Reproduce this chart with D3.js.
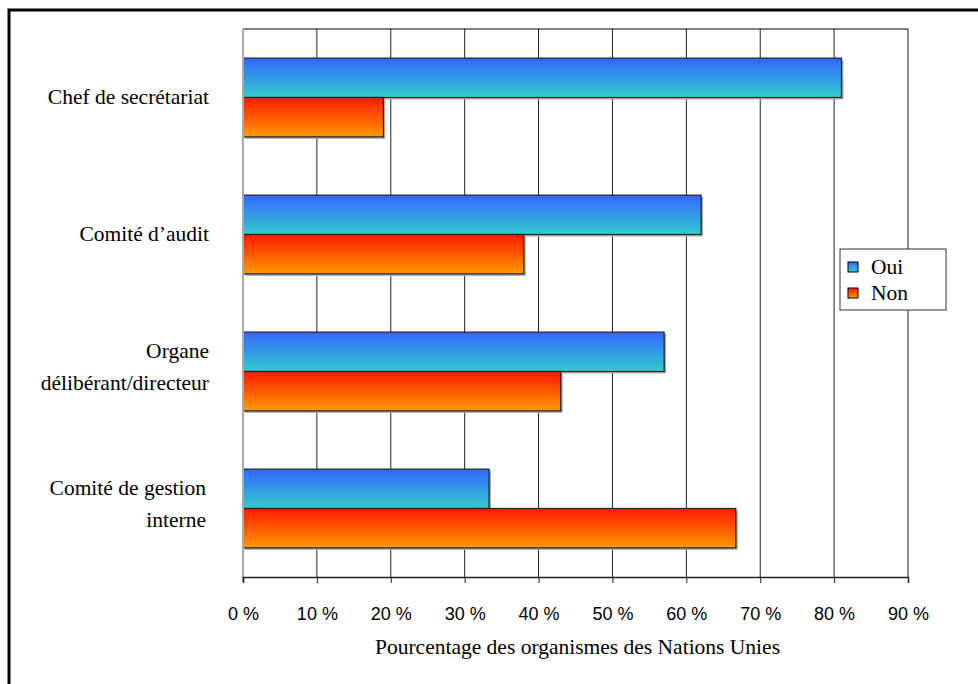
<!DOCTYPE html>
<html>
<head>
<meta charset="utf-8">
<script src="https://cdn.jsdelivr.net/npm/d3@7"></script>
<style>
  body { margin: 0; background: #fff; }
  svg { display: block; }
</style>
</head>
<body>
<svg width="978" height="684"></svg>
<script>
// data
var categories = [
  ["Chef de secrétariat"],
  ["Comité d\u2019audit"],
  ["Organe", "délibérant/directeur"],
  ["Comité de gestion", "interne"]
];
var oui = [81, 62, 57, 33.3];
var non = [19, 38, 43, 66.7];
var seriesNames = ["Oui", "Non"];
var ticks = [0, 10, 20, 30, 40, 50, 60, 70, 80, 90];

var svg = d3.select("svg");
// plot box (don't call it "top", that's window.top)
var pL = 243, pR = 908, pT = 29, pB = 577;
var serif = "'Liberation Serif', 'Times New Roman', serif";

// outer frame (cropped on the right and bottom)
svg.append("path")
  .attr("d", "M9,684 V10 H978")
  .attr("fill", "none").attr("stroke", "#000").attr("stroke-width", 3);

var defs = svg.append("defs");
var g1 = defs.append("linearGradient").attr("id", "gOui")
  .attr("x1", 0).attr("y1", 0).attr("x2", 0).attr("y2", 1);
g1.append("stop").attr("offset", "0%").attr("stop-color", "#3366ff");
g1.append("stop").attr("offset", "100%").attr("stop-color", "#33cccc");
var g2 = defs.append("linearGradient").attr("id", "gNon")
  .attr("x1", 0).attr("y1", 0).attr("x2", 0).attr("y2", 1);
g2.append("stop").attr("offset", "0%").attr("stop-color", "#ff1a00");
g2.append("stop").attr("offset", "100%").attr("stop-color", "#ff9900");

var x = d3.scaleLinear().domain([0, 90]).range([pL, pR]);
var y = d3.scaleBand().domain(d3.range(categories.length)).range([pT, pB]);
var inner = d3.scaleBand().domain([0, 1]).range([0, y.bandwidth()]).paddingOuter(0.74).paddingInner(0);

// grid lines
svg.append("g").selectAll("line").data(ticks.slice(1)).enter().append("line")
  .attr("x1", function(d) { return x(d); }).attr("x2", function(d) { return x(d); })
  .attr("y1", pT).attr("y2", pB)
  .attr("stroke", "#222").attr("stroke-width", 1);

// top border of plot
svg.append("line").attr("x1", pL).attr("x2", pR).attr("y1", pT).attr("y2", pT)
  .attr("stroke", "#000").attr("stroke-width", 1);

// bars
var rows = categories.map(function(c, i) { return [oui[i], non[i]]; });
var grp = svg.append("g").selectAll("g").data(rows).enter().append("g")
  .attr("transform", function(d, i) { return "translate(0," + y(i) + ")"; });
// shadow
grp.selectAll("rect.sh").data(function(d) { return d; }).enter().append("rect")
  .attr("class", "sh")
  .attr("x", x(0) + 2).attr("y", function(d, j) { return inner(j) + 2; })
  .attr("width", function(d) { return x(d) - x(0); })
  .attr("height", inner.bandwidth())
  .attr("fill", "#aaa");
grp.selectAll("rect.bar").data(function(d) { return d; }).enter().append("rect")
  .attr("class", "bar")
  .attr("x", x(0)).attr("y", function(d, j) { return inner(j); })
  .attr("width", function(d) { return x(d) - x(0); })
  .attr("height", inner.bandwidth())
  .attr("fill", function(d, j) { return j === 0 ? "url(#gOui)" : "url(#gNon)"; })
  .attr("stroke", "#222").attr("stroke-width", 1.2);

// left axis line (grey)
svg.append("line").attr("x1", pL).attr("x2", pL).attr("y1", pT).attr("y2", pB + 5)
  .attr("stroke", "#aaa").attr("stroke-width", 2);

// x axis
var xAxis = svg.append("g").attr("transform", "translate(0," + pB + ")")
  .call(d3.axisBottom(x).tickValues(ticks).tickSize(6).tickPadding(24)
    .tickFormat(function(d) { return d + " %"; }));
xAxis.select(".domain").attr("stroke", "#222").attr("stroke-width", 1.5);
xAxis.selectAll(".tick line").attr("stroke", "#222");
xAxis.selectAll("text").attr("font-family", "'Liberation Sans', Arial, sans-serif")
  .attr("font-size", 18).attr("fill", "#000");

// category labels
svg.append("g").selectAll("text").data(categories).enter().append("text")
  .attr("text-anchor", "end")
  .attr("font-family", serif)
  .attr("font-size", 21.5).attr("fill", "#000")
  .each(function(d, i) {
    var t = d3.select(this);
    var cy = y(i) + y.bandwidth() / 2;
    var lh = 32;
    var start = d.length > 1 ? cy - 13.5 : cy + 6;
    d.forEach(function(line, k) {
      t.append("tspan").attr("x", i === 3 ? 206 : 209)
        .attr("y", start + k * lh).text(line);
    });
  });

// axis title
svg.append("text").attr("x", x(45) + 2).attr("y", 654).attr("text-anchor", "middle")
  .attr("font-family", serif)
  .attr("font-size", 21.5).text("Pourcentage des organismes des Nations Unies");

// legend
var lg = svg.append("g").attr("transform", "translate(840,249)");
lg.append("rect").attr("width", 106).attr("height", 61)
  .attr("fill", "#fff").attr("stroke", "#333").attr("stroke-width", 1);
var items = lg.selectAll("g").data(seriesNames).enter().append("g")
  .attr("transform", function(d, i) { return "translate(8," + (13 + i * 26) + ")"; });
items.append("rect").attr("width", 10).attr("height", 10)
  .attr("fill", function(d, i) { return i === 0 ? "url(#gOui)" : "url(#gNon)"; })
  .attr("stroke", "#000").attr("stroke-width", 1);
items.append("text").attr("x", 23).attr("y", 12)
  .attr("font-family", serif)
  .attr("font-size", 21.5).text(function(d) { return d; });
</script>
</body>
</html>
